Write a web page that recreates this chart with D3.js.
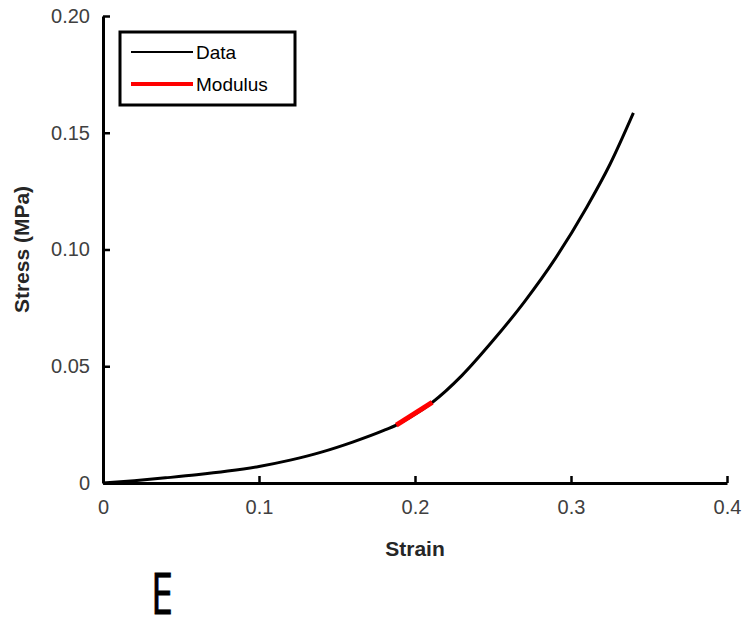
<!DOCTYPE html>
<html>
<head>
<meta charset="utf-8">
<script src="https://cdn.jsdelivr.net/npm/d3@7"></script>
<style>
  body { margin: 0; background: #fff; }
  svg { display: block; font-family: "Liberation Sans", Arial, sans-serif; }
</style>
</head>
<body>
<svg id="chart"></svg>
<script>
// values
const strain = [0, 0.02, 0.04, 0.06, 0.08, 0.1, 0.12, 0.14, 0.16, 0.18, 0.188, 0.2, 0.211, 0.23, 0.25, 0.27, 0.29, 0.31, 0.325, 0.34];
const stress = [0, 0.0010, 0.0022, 0.0035, 0.0051, 0.0071, 0.0098, 0.0132, 0.0175, 0.0225, 0.0248, 0.0294, 0.0345, 0.046, 0.061, 0.0775, 0.0962, 0.118, 0.1365, 0.1585];
const modulusStrain = [0.188, 0.211];
const modulusStress = [0.0248, 0.0345];
const xTicks = [0, 0.1, 0.2, 0.3, 0.4];
const yTicks = [0, 0.05, 0.10, 0.15, 0.20];
const legendLabels = ["Data", "Modulus"];
const panelLabel = "E";

const width = 750, height = 622;
const margin = { top: 16, right: 23, bottom: 139, left: 103 };

const svg = d3.select("#chart").attr("width", width).attr("height", height);

const x = d3.scaleLinear().domain([0, 0.4]).range([margin.left, width - margin.right]);
const y = d3.scaleLinear().domain([0, 0.2]).range([height - margin.bottom, margin.top]);

const data = strain.map((s, i) => ({ x: s, y: stress[i] }));
const modulus = modulusStrain.map((s, i) => ({ x: s, y: modulusStress[i] }));

const line = d3.line().x(d => x(d.x)).y(d => y(d.y)).curve(d3.curveMonotoneX);

svg.append("path")
    .datum(data)
    .attr("d", line)
    .attr("fill", "none")
    .attr("stroke", "#000")
    .attr("stroke-width", 3);

svg.append("path")
    .datum(modulus)
    .attr("d", d3.line().x(d => x(d.x)).y(d => y(d.y)))
    .attr("fill", "none")
    .attr("stroke", "#ff0000")
    .attr("stroke-width", 5);

// axes, MATLAB style with ticks inside
const xAxis = svg.append("g")
    .attr("transform", `translate(0,${y(0)})`)
    .call(d3.axisBottom(x).tickValues(xTicks).tickSizeInner(-7).tickSizeOuter(0).tickPadding(17)
        .tickFormat(d => d === 0 ? "0" : d3.format(".1f")(d)));

const yAxis = svg.append("g")
    .attr("transform", `translate(${x(0)},0)`)
    .call(d3.axisLeft(y).tickValues(yTicks).tickSizeInner(-7).tickSizeOuter(0).tickPadding(13)
        .tickFormat(d => d === 0 ? "0" : d3.format(".2f")(d)));

[xAxis, yAxis].forEach(g => {
    g.select(".domain").attr("stroke", "#000").attr("stroke-width", 3);
    g.selectAll(".tick line").attr("stroke", "#000").attr("stroke-width", 2.5);
    g.selectAll(".tick text").attr("fill", "#404040").style("font-size", "20px");
});

svg.append("text")
    .attr("x", (margin.left + width - margin.right) / 2)
    .attr("y", 556)
    .attr("text-anchor", "middle")
    .style("font-size", "21px")
    .style("font-weight", "bold")
    .attr("fill", "#262626")
    .text("Strain");

svg.append("text")
    .attr("transform", `translate(29,${(margin.top + height - margin.bottom) / 2}) rotate(-90)`)
    .attr("text-anchor", "middle")
    .style("font-size", "21px")
    .style("font-weight", "bold")
    .attr("fill", "#262626")
    .text("Stress (MPa)");

// legend
const legend = svg.append("g").attr("transform", "translate(120,32)");
legend.append("rect")
    .attr("width", 175).attr("height", 73)
    .attr("fill", "#fff").attr("stroke", "#000").attr("stroke-width", 3);

const legendColors = ["#000", "#ff0000"];
const legendWidths = [2, 4];
legend.selectAll("g.item")
    .data(legendLabels)
    .join("g")
    .attr("class", "item")
    .attr("transform", (d, i) => `translate(0,${20 + i * 32})`)
    .each(function(d, i) {
        const g = d3.select(this);
        g.append("line")
            .attr("x1", 11).attr("x2", 73)
            .attr("stroke", legendColors[i]).attr("stroke-width", legendWidths[i]);
        g.append("text")
            .attr("x", 76).attr("y", 7)
            .style("font-size", "19px")
            .attr("fill", "#000")
            .text(d);
    });

// panel letter
svg.append("text")
    .attr("x", 151)
    .attr("y", 614)
    .style("font-family", "'Open Sans', sans-serif")
    .style("font-size", "57px")
    .attr("textLength", 22)
    .attr("lengthAdjust", "spacingAndGlyphs")
    .attr("fill", "#000")
    .attr("stroke", "#000")
    .attr("stroke-width", 0.8)
    .text(panelLabel);
</script>
</body>
</html>
